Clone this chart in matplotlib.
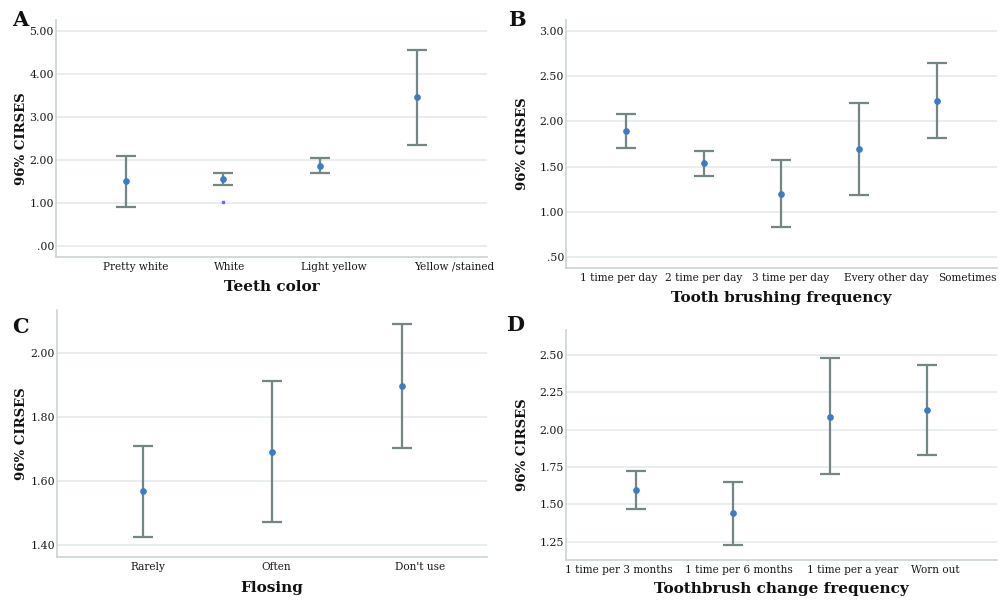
import matplotlib
matplotlib.use("Agg")
import matplotlib.pyplot as plt
import matplotlib.transforms as mtrans
import numpy as np

# ---- data ----
teeth_cats = ["Pretty white", "White", "Light yellow", "Yellow /stained"]
teeth_mean = [1.51, 1.55, 1.87, 3.46]
teeth_low = [0.91, 1.42, 1.70, 2.36]
teeth_high = [2.10, 1.69, 2.04, 4.55]
teeth_ticks = [0, 1, 2, 3, 4, 5]
teeth_ticklabels = [".00", "1.00", "2.00", "3.00", "4.00", "5.00"]
teeth_extra_x = [1]
teeth_extra_y = [1.03]

brush_cats = ["1 time per day", "2 time per day", "3 time per day", "Every other day", "Sometimes"]
brush_mean = [1.895, 1.536, 1.20, 1.69, 2.23]
brush_low = [1.71, 1.40, 0.83, 1.19, 1.82]
brush_high = [2.08, 1.673, 1.57, 2.20, 2.645]
brush_ticks = [0.5, 1.0, 1.5, 2.0, 2.5, 3.0]
brush_ticklabels = [".50", "1.00", "1.50", "2.00", "2.50", "3.00"]

floss_cats = ["Rarely", "Often", "Don't use"]
floss_mean = [1.566, 1.691, 1.897]
floss_low = [1.423, 1.472, 1.703]
floss_high = [1.708, 1.911, 2.091]
floss_ticks = [1.4, 1.6, 1.8, 2.0]
floss_ticklabels = ["1.40", "1.60", "1.80", "2.00"]

change_cats = ["1 time per 3 months", "1 time per 6 months", "1 time per a year", "Worn out"]
change_mean = [1.596, 1.44, 2.087, 2.13]
change_low = [1.466, 1.227, 1.70, 1.828]
change_high = [1.725, 1.649, 2.478, 2.43]
change_ticks = [1.25, 1.5, 1.75, 2.0, 2.25, 2.5]
change_ticklabels = ["1.25", "1.50", "1.75", "2.00", "2.25", "2.50"]

W, H = 1001, 603
fig = plt.figure(figsize=(W / 100, H / 100), dpi=100)
fig.patch.set_facecolor("white")

SERIF = ["DejaVu Serif", "Liberation Serif"]
BAR_C = "#738584"
PT_C = "#3b7cc4"
GRID_C = "#e4ebeb"
SPINE_C = "#c9d3d3"
TXT_C = "#1a1a1a"


def px_axes(l, r, t, b):
    return fig.add_axes([l / W, 1 - b / H, (r - l) / W, (b - t) / H])


def panel(ax, cats, mean, low, high, ticks, ticklabels, ylim, xlim, xlabel, letter,
          lpos, ylab_x, xlab_y, label_shift):
    x = np.arange(len(cats))
    m = np.array(mean)
    yerr = [m - np.array(low), np.array(high) - m]
    ax.set_axisbelow(True)
    ax.grid(axis="y", color=GRID_C, linewidth=1.2)
    ax.errorbar(x, m, yerr=yerr, fmt="none", ecolor=BAR_C, elinewidth=1.6,
                capsize=7.5, capthick=1.6, zorder=3)
    ax.plot(x, m, "o", color=PT_C, markersize=3.8, zorder=4)
    ax.set_xlim(*xlim)
    ax.set_ylim(*ylim)
    ax.set_xticks(x)
    ax.set_xticklabels([""] * len(cats))
    for xi, lab, dx in zip(x, cats, label_shift):
        tr = ax.get_xaxis_transform() + mtrans.ScaledTranslation(dx / 100, -0.05, fig.dpi_scale_trans)
        ax.text(xi, 0, lab, transform=tr, ha="center", va="top",
                fontfamily=SERIF, fontsize=7.6, color=TXT_C)
    ax.set_yticks(ticks)
    ax.set_yticklabels(ticklabels, fontfamily=SERIF, fontsize=7.9, color=TXT_C)
    ax.tick_params(axis="y", length=0, pad=1.5)
    ax.tick_params(axis="x", length=0, pad=3)
    for s in ["top", "right"]:
        ax.spines[s].set_visible(False)
    for s in ["left", "bottom"]:
        ax.spines[s].set_color(SPINE_C)
        ax.spines[s].set_linewidth(1.2)
    bb = ax.get_position()
    fig.text(bb.x0 + bb.width / 2, 1 - xlab_y / H, xlabel, ha="center", va="center",
             fontfamily=SERIF, fontsize=11, fontweight="bold", color="#111111")
    fig.text(ylab_x / W, bb.y0 + bb.height / 2, "96% CIRSES",
             rotation=90, ha="center", va="center",
             fontfamily=SERIF, fontsize=9.5, fontweight="bold", color="#111111")
    fig.text(lpos[0] / W, 1 - lpos[1] / H, letter, ha="center", va="center",
             fontfamily=SERIF, fontsize=15, fontweight="bold", color="#111111")
    return ax


axA = px_axes(56, 487, 20, 257)
panel(axA, teeth_cats, teeth_mean, teeth_low, teeth_high, teeth_ticks, teeth_ticklabels,
      (-0.25, 5.25), (-0.72, 3.72), "Teeth color", "A", (20, 20), 22, 287,
      [10, 7, 14, 37])
axA.plot(teeth_extra_x, teeth_extra_y, "s", color="#6a6af0", markersize=1.6, zorder=4)

axB = px_axes(566, 997, 20, 268)
panel(axB, brush_cats, brush_mean, brush_low, brush_high, brush_ticks, brush_ticklabels,
      (0.375, 3.125), (-0.78, 4.78), "Tooth brushing frequency", "B", (517, 20), 522, 298,
      [-8, 0, 9, 27, 31])

axC = px_axes(57, 487, 310, 557)
panel(axC, floss_cats, floss_mean, floss_low, floss_high, floss_ticks, floss_ticklabels,
      (1.361, 2.134), (-0.664, 2.66), "Flosing", "C", (20, 327), 22, 588,
      [5, 4, 18])

axD = px_axes(566, 997, 330, 560)
panel(axD, change_cats, change_mean, change_low, change_high, change_ticks, change_ticklabels,
      (1.127, 2.667), (-0.72, 3.72), "Toothbrush change frequency", "D", (515, 325), 522, 589,
      [-17, 6, 23, 8])

fig.savefig("out.png", dpi=100, facecolor="white")
